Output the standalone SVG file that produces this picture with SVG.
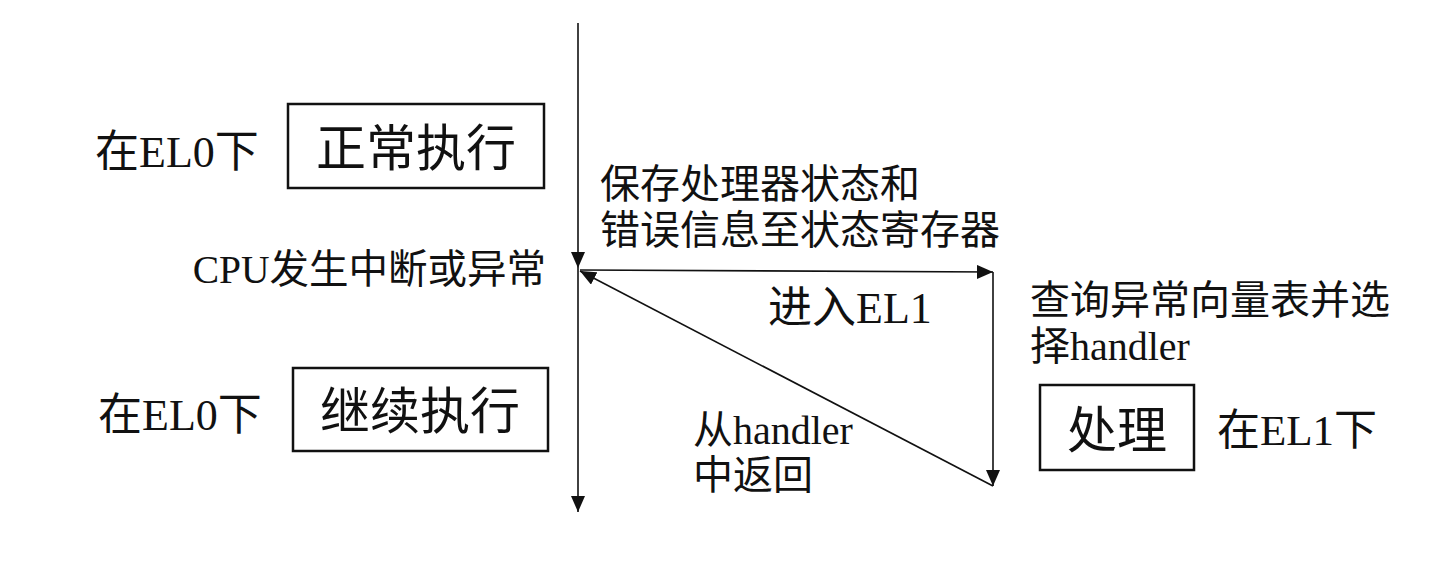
<svg xmlns="http://www.w3.org/2000/svg" width="1432" height="581" viewBox="0 0 1432 581">
<defs>
<marker id="arr" viewBox="0 0 16 14" refX="16" refY="7" markerWidth="16" markerHeight="14" orient="auto" markerUnits="userSpaceOnUse">
<path d="M0,0 L16,7 L0,14 z" fill="#111"/>
</marker>
<style>
text{font-family:"Liberation Serif","Noto Sans CJK SC",serif;fill:#111;}
.box{fill:none;stroke:#111;stroke-width:2.5;}
.con{fill:none;stroke:#111;stroke-width:1.6;marker-end:url(#arr);}
.lbl{font-size:40px;}
.side{font-size:44px;}
.big{font-size:50px;}
</style>
</defs>
<rect width="1432" height="581" fill="#fff"/>
<g id="connectors">
<path class="con" d="M578,23 L578,268"/>
<path class="con" d="M578,268 L578,512"/>
<path class="con" d="M580,270 L993,272"/>
<path class="con" d="M993,272 L993,486"/>
<path class="con" d="M993,486 L580,271"/>
</g>
<g id="label-el0-top"><text class="side" x="95" y="167">在EL0下</text></g>
<g id="node-normal">
<rect class="box" x="288" y="104" width="256" height="84"/>
<text class="big" x="416" y="166" text-anchor="middle">正常执行</text>
</g>
<g id="label-save">
<text class="lbl" x="600" y="198">保存处理器状态和</text>
<text class="lbl" x="600" y="244">错误信息至状态寄存器</text>
</g>
<g id="label-cpu"><text class="lbl" x="546" y="283" text-anchor="end" style="font-size:39.5px">CPU发生中断或异常</text></g>
<g id="label-enter"><text class="side" x="768" y="323">进入EL1</text></g>
<g id="label-lookup">
<text class="lbl" x="1030" y="314">查询异常向量表并选</text>
<text class="lbl" x="1030" y="360">择handler</text>
</g>
<g id="label-el0-bottom"><text class="side" x="98" y="430">在EL0下</text></g>
<g id="node-continue">
<rect class="box" x="293" y="368" width="255" height="83"/>
<text class="big" x="420" y="429" text-anchor="middle">继续执行</text>
</g>
<g id="label-return">
<text class="lbl" x="693" y="444">从handler</text>
<text class="lbl" x="693" y="489">中返回</text>
</g>
<g id="node-handle">
<rect class="box" x="1040" y="385" width="154" height="85"/>
<text class="big" x="1117" y="448" text-anchor="middle">处理</text>
</g>
<g id="label-el1"><text class="side" x="1217" y="445" style="font-size:43px">在EL1下</text></g>
</svg>
